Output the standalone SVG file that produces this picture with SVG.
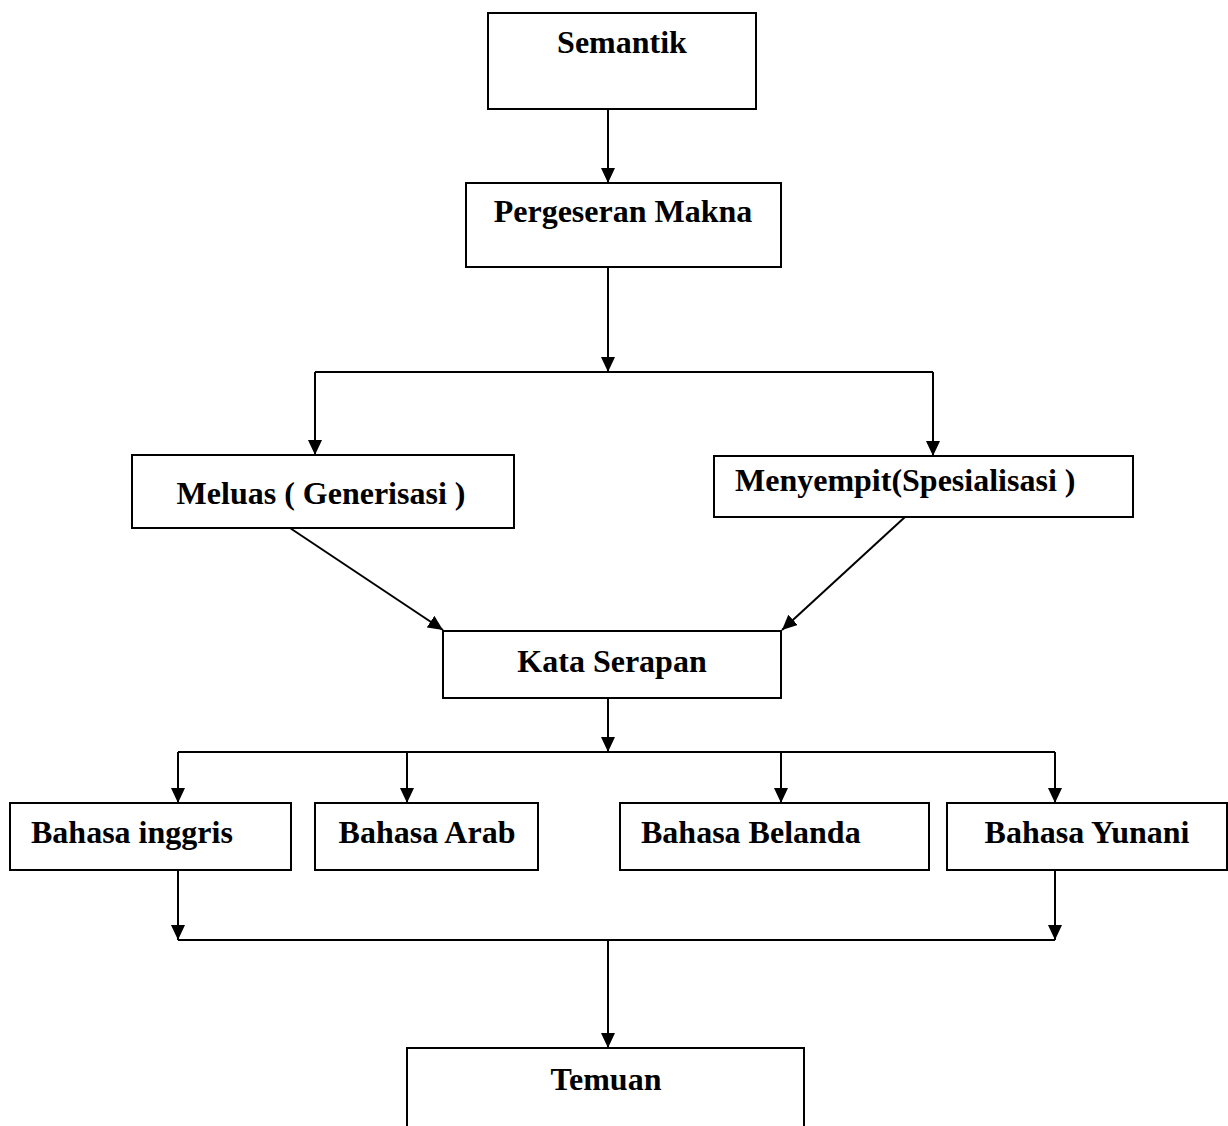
<svg xmlns="http://www.w3.org/2000/svg" width="1228" height="1126" viewBox="0 0 1228 1126">
<style>
.box{fill:#fff;stroke:#000;stroke-width:2}
.lbl{font-family:"Liberation Serif","Times New Roman",serif;font-weight:bold;font-size:32px;fill:#000}
.c{text-anchor:middle}
.conn line{stroke:#000;stroke-width:2;fill:none}
.arr{marker-end:url(#ah)}
</style>
<defs>
<marker id="ah" markerUnits="userSpaceOnUse" markerWidth="16" markerHeight="14" refX="15" refY="7" orient="auto">
<path d="M0,0 L15,7 L0,14 z" fill="#000"/>
</marker>
</defs>
<rect width="1228" height="1126" fill="#fff"/>
<g class="conn">
<line class="arr" x1="608" y1="109" x2="608" y2="183"/>
<line class="arr" x1="608" y1="267" x2="608" y2="372"/>
<line x1="315" y1="372" x2="933" y2="372"/>
<line class="arr" x1="315" y1="372" x2="315" y2="455"/>
<line class="arr" x1="933" y1="372" x2="933" y2="456"/>
<line class="arr" x1="290" y1="528" x2="443" y2="630"/>
<line class="arr" x1="905" y1="517" x2="782" y2="630"/>
<line class="arr" x1="608" y1="698" x2="608" y2="752"/>
<line x1="178" y1="752" x2="1055" y2="752"/>
<line class="arr" x1="178" y1="752" x2="178" y2="803"/>
<line class="arr" x1="407" y1="752" x2="407" y2="803"/>
<line class="arr" x1="781" y1="752" x2="781" y2="803"/>
<line class="arr" x1="1055" y1="752" x2="1055" y2="803"/>
<line class="arr" x1="178" y1="870" x2="178" y2="940"/>
<line class="arr" x1="1055" y1="870" x2="1055" y2="940"/>
<line x1="178" y1="940" x2="1055" y2="940"/>
<line class="arr" x1="608" y1="940" x2="608" y2="1048"/>
</g>
<g id="semantik"><rect class="box" x="488" y="13" width="268" height="96"/><text class="lbl c" x="622" y="53">Semantik</text></g>
<g id="pergeseran"><rect class="box" x="466" y="183" width="315" height="84"/><text class="lbl c" x="623" y="222">Pergeseran Makna</text></g>
<g id="meluas"><rect class="box" x="132" y="455" width="382" height="73"/><text class="lbl c" x="321" y="504">Meluas ( Generisasi )</text></g>
<g id="menyempit"><rect class="box" x="714" y="456" width="419" height="61"/><text class="lbl" x="735" y="491">Menyempit(Spesialisasi )</text></g>
<g id="kata-serapan"><rect class="box" x="443" y="631" width="338" height="67"/><text class="lbl c" x="612" y="672">Kata Serapan</text></g>
<g id="inggris"><rect class="box" x="10" y="803" width="281" height="67"/><text class="lbl" x="31" y="843">Bahasa inggris</text></g>
<g id="arab"><rect class="box" x="315" y="803" width="223" height="67"/><text class="lbl c" x="427" y="843">Bahasa Arab</text></g>
<g id="belanda"><rect class="box" x="620" y="803" width="309" height="67"/><text class="lbl" x="641" y="843">Bahasa Belanda</text></g>
<g id="yunani"><rect class="box" x="947" y="803" width="280" height="67"/><text class="lbl c" x="1087" y="843">Bahasa Yunani</text></g>
<g id="temuan"><rect class="box" x="407" y="1048" width="397" height="100"/><text class="lbl c" x="606" y="1090">Temuan</text></g>
</svg>
